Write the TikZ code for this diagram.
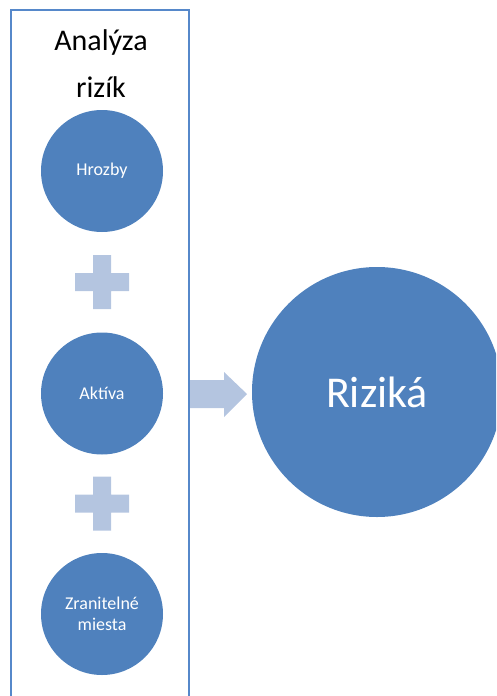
\documentclass[tikz,border=0pt]{standalone}
\usepackage{fontspec}
\setmainfont{Carlito}
\definecolor{accent}{RGB}{79,129,189}
\definecolor{framec}{RGB}{86,136,202}
\definecolor{lightacc}{RGB}{180,197,224}
\begin{document}
\begin{tikzpicture}[x=1pt,y=-1pt,
  bubble/.style={circle,fill=accent,draw=none,inner sep=0pt,minimum size=122pt,text=white,align=center,font=\fontsize{18}{21}\selectfont},
  bigbubble/.style={circle,fill=accent,draw=none,inner sep=0pt,minimum size=250pt,text=white,font=\fontsize{44}{50}\selectfont},
  titletext/.style={anchor=base,inner sep=0pt,font=\fontsize{30}{36}\selectfont},
  plusshape/.style={fill=lightacc,draw=none},
  frame/.style={draw=framec,line width=2.2pt}]
\useasboundingbox (0,0) rectangle (496,696);
\clip (0,0) rectangle (496,696);
% frame
\draw[frame] (11,10) rectangle (189,710);
% title
\node[titletext] (t1) at (101,50) {Analýza};
\node[titletext] (t2) at (101,97) {rizík};
% circles
\node[bubble] (hrozby) at (102,171) {Hrozby};
\node[bubble] (aktiva) at (102,393.5) {Aktíva};
\node[bubble] (zran) at (102,614) {Zranitelné\\miesta};
\node[bigbubble] (riziká) at (377,392) {Riziká};
% plus signs
\coordinate (p1) at (102,282);
\coordinate (p2) at (102,503.5);
\foreach \p in {p1,p2}{
  \fill[plusshape] ([shift={(-9,-27)}]\p) -- ([shift={(9,-27)}]\p) -- ([shift={(9,-9)}]\p) -- ([shift={(27,-9)}]\p)
    -- ([shift={(27,9)}]\p) -- ([shift={(9,9)}]\p) -- ([shift={(9,27)}]\p) -- ([shift={(-9,27)}]\p)
    -- ([shift={(-9,9)}]\p) -- ([shift={(-27,9)}]\p) -- ([shift={(-27,-9)}]\p) -- ([shift={(-9,-9)}]\p) -- cycle;
}
% arrow
\coordinate (a0) at (190,394);
\fill[plusshape] (190,380) -- (224,380) -- (224,372) -- (247,394) -- (224,417) -- (224,408) -- (190,408) -- cycle;
\end{tikzpicture}
\end{document}
